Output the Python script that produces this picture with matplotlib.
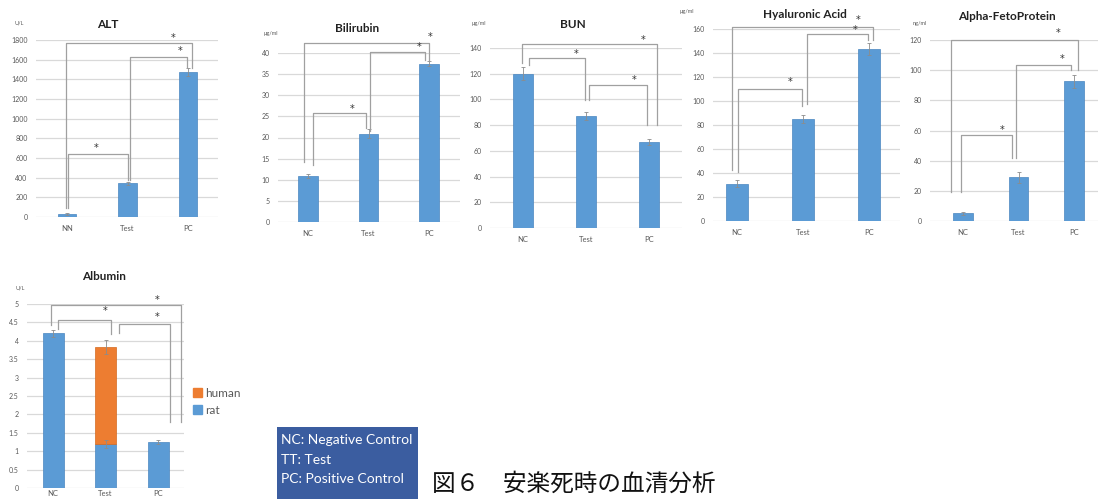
import matplotlib
matplotlib.use("Agg")
import matplotlib.pyplot as plt
from matplotlib.patches import Rectangle, Patch

plt.rcParams["font.family"] = ["Lato", "DejaVu Sans"]

W, H = 1098, 499

# ---- data ----
cats_alt = ["NN", "Test", "PC"]
cats = ["NC", "Test", "PC"]

alt_vals = [35, 345, 1475]
alt_err = [10, 15, 40]
bil_vals = [10.9, 20.9, 37.5]
bil_err = [0.4, 1.0, 0.5]
bun_vals = [120, 87, 67]
bun_err = [5, 3, 2.5]
ha_vals = [31, 85, 143]
ha_err = [3, 3.5, 5]
afp_vals = [5, 29, 92.5]
afp_err = [1, 3.5, 4]
alb_rat = [4.2, 1.2, 1.25]
alb_rat_err = [0.1, 0.1, 0.06]
alb_human = [0, 2.63, 0]
alb_total_err = [0, 0.2, 0]

BLUE = "#5B9BD5"
ORANGE = "#ED7D31"
GRID = "#D9D9D9"
TXT = "#595959"
BRK = "#A0A0A0"


def panel(left, right, top, bottom, c0, c2, ymax, step, labels, xpad=6):
    ax = fig.add_axes([left / W, 1 - bottom / H, (right - left) / W, (bottom - top) / H])
    sp = (c2 - c0) / 2
    ax.set_xlim((left - c0) / sp, (right - c0) / sp)
    ax.set_ylim(0, ymax)
    ticks = [i * step for i in range(int(round(ymax / step)) + 1)]
    ax.set_yticks(ticks)
    ax.set_yticklabels([("%g" % t) for t in ticks], fontsize=5, color=TXT)
    ax.set_xticks([0, 1, 2])
    ax.set_xticklabels(labels, fontsize=5.5, color=TXT)
    ax.tick_params(axis="y", length=0, pad=6)
    ax.tick_params(axis="x", length=0, pad=xpad)
    for s in ax.spines.values():
        s.set_visible(False)
    ax.grid(axis="y", color=GRID, lw=0.9)
    ax.set_axisbelow(True)
    return ax


def bars(ax, vals, err, width):
    ax.bar([0, 1, 2], vals, width=width, color=BLUE, edgecolor="#4A86C0", lw=0.5,
           yerr=err, error_kw=dict(ecolor="#8C8C8C", elinewidth=0.6, capsize=1.5, capthick=0.6))


def brackets(ax, items):
    for xl, yl, xr, yr, top, sx, sy in items:
        ax.plot([xl, xl, xr, xr], [yl, top, top, yr], color=BRK, lw=0.9, clip_on=False)
        ax.text(sx, sy, "*", ha="center", va="center", fontsize=7, color="#333333",
                family="DejaVu Sans", clip_on=False)


fig = plt.figure(figsize=(W / 100, H / 100), dpi=100)
fig.patch.set_facecolor("white")

# ALT
ax = panel(36, 218, 40, 217, 67, 188, 1800, 200, cats_alt)
bars(ax, alt_vals, alt_err, 0.31)
brackets(ax, [(0.02, 90, 1.0, 376, 640, 0.48, 700),
              (1.04, 376, 1.98, 1526, 1628, 1.87, 1690),
              (-0.02, 90, 2.07, 1520, 1770, 1.75, 1820)])

# Bilirubin
ax = panel(278, 460, 53, 222, 308, 429, 40, 5, cats)
bars(ax, bil_vals, bil_err, 0.32)
brackets(ax, [(0.08, 13.5, 0.96, 22.2, 25.8, 0.73, 26.8),
              (1.02, 21.6, 1.93, 38.3, 40.2, 1.83, 41.4),
              (-0.07, 14.2, 2.0, 38.3, 42.4, 2.02, 43.8)])

# BUN
ax = panel(490, 682, 48, 228, 523, 649, 140, 20, cats)
bars(ax, bun_vals, bun_err, 0.32)
brackets(ax, [(0.1, 127, 0.98, 99.5, 132, 0.84, 135),
              (1.05, 99.5, 1.97, 80, 111, 1.76, 115.5),
              (-0.02, 128, 2.13, 80, 143, 1.9, 146)])

# Hyaluronic Acid
ax = panel(713, 900, 29, 221, 737, 869, 160, 20, cats)
bars(ax, ha_vals, ha_err, 0.32)
brackets(ax, [(0.02, 41, 0.98, 96, 110, 0.8, 115.5),
              (1.06, 97.5, 1.98, 151, 156, 1.79, 159),
              (-0.08, 42.5, 2.06, 151, 162, 1.83, 167.5)])

# Alpha-FetoProtein
ax = panel(930, 1102, 40, 221, 963, 1074, 120, 20, cats)
bars(ax, afp_vals, afp_err, 0.35)
brackets(ax, [(-0.04, 19.5, 0.88, 42, 57, 0.7, 60.5),
              (0.95, 42, 1.95, 100, 103.5, 1.78, 107.5),
              (-0.22, 19.5, 2.07, 100, 120, 1.71, 124.5)])

# Albumin (stacked)
ax = panel(27, 184, 304, 488, 53, 158, 5, 0.5, cats, xpad=1.5)
ax.bar([0, 1, 2], alb_rat, width=0.4, color=BLUE, edgecolor="#4A86C0", lw=0.5,
       yerr=alb_rat_err, error_kw=dict(ecolor="#8C8C8C", elinewidth=0.6, capsize=1.5, capthick=0.6))
ax.bar([1], [alb_human[1]], bottom=[alb_rat[1]], width=0.4, color=ORANGE, edgecolor="#D46A20",
       lw=0.5, yerr=[alb_total_err[1]],
       error_kw=dict(ecolor="#8C8C8C", elinewidth=0.6, capsize=1.5, capthick=0.6))
brackets(ax, [(0.1, 4.32, 1.1, 4.18, 4.57, 0.99, 4.82),
              (1.26, 4.2, 2.23, 1.8, 4.45, 1.98, 4.66),
              (-0.04, 4.43, 2.44, 1.8, 4.97, 1.98, 5.12)])
fig.legend(handles=[Patch(color=ORANGE, label="human"), Patch(color=BLUE, label="rat")],
           loc="center left", bbox_to_anchor=(182 / W, 1 - 402 / H), frameon=False,
           handlelength=0.8, handleheight=0.8, handletextpad=0.3, labelspacing=0.5,
           prop=dict(size=8.5), labelcolor=TXT)

# titles and units
titles = [("ALT", 108, 25), ("Bilirubin", 357, 29), ("BUN", 573, 25),
          ("Hyaluronic Acid", 805, 14), ("Alpha-FetoProtein", 1007, 17), ("Albumin", 104, 276)]
for t, x, y in titles:
    fig.text(x / W, 1 - y / H, t, ha="center", va="center", fontsize=8.5, fontweight="bold",
             color="#222222")
units = [("U/L", 19, 23), ("μg/ml", 271, 33), ("μg/ml", 479, 23), ("μg/ml", 687, 11),
         ("ng/ml", 920, 23), ("U/L", 20, 288)]
for t, x, y in units:
    fig.text(x / W, 1 - y / H, t, ha="center", va="center", fontsize=4, color=TXT)

# abbreviation box
fig.patches.append(Rectangle((277 / W, 0), (418 - 277) / W, 1 - 427 / H,
                             transform=fig.transFigure, facecolor="#3B5DA0",
                             edgecolor="none"))
for i, line in enumerate(["NC: Negative Control", "TT: Test", "PC: Positive Control"]):
    fig.text(281 / W, 1 - (440 + 19.5 * i) / H, line, ha="left", va="center",
             fontsize=10, color="white")

fig.text(432 / W, 1 - 484 / H, "図６　安楽死時の血清分析", ha="left", va="center",
         fontsize=17, family=["Noto Sans CJK JP", "DejaVu Sans"], color="#111111")

fig.savefig("out.png", dpi=100)
